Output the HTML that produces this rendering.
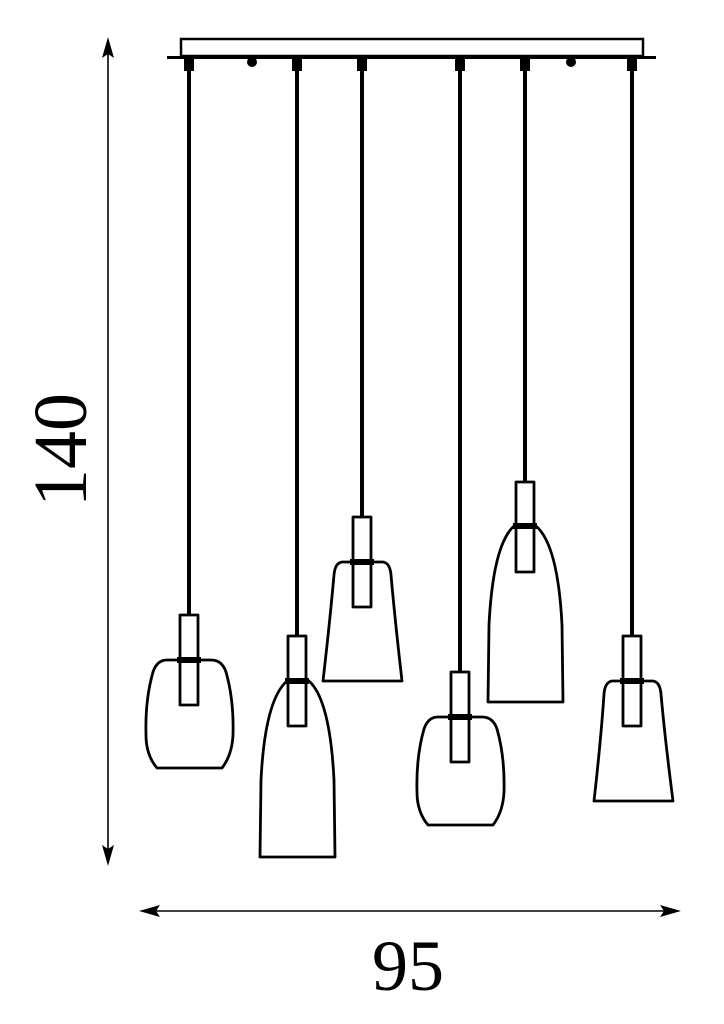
<!DOCTYPE html>
<html><head><style>html,body{margin:0;padding:0;background:#fff}svg{display:block}</style></head>
<body>
<svg width="724" height="1024" viewBox="0 0 724 1024" xmlns="http://www.w3.org/2000/svg">
<g fill="none" stroke="#000" stroke-width="3">
<rect x="181" y="39" width="462" height="17" stroke-width="2.5"/>
<line x1="167" y1="57.5" x2="656" y2="57.5" stroke-width="3"/>
</g>
<g fill="#000">
<circle cx="252" cy="62" r="5"/><circle cx="571" cy="62" r="5"/>
<rect x="184" y="58" width="10" height="13"/><rect x="292" y="58" width="10" height="13"/>
<rect x="357" y="58" width="10" height="13"/><rect x="455" y="58" width="10" height="13"/>
<rect x="520" y="58" width="10" height="13"/><rect x="627" y="58" width="10" height="13"/>
</g>
<g stroke="#000" stroke-width="4">
<line x1="189" y1="70" x2="189" y2="615"/>
<line x1="297" y1="70" x2="297" y2="636"/>
<line x1="362" y1="70" x2="362" y2="517"/>
<line x1="460" y1="70" x2="460" y2="672"/>
<line x1="525" y1="70" x2="525" y2="482"/>
<line x1="632" y1="70" x2="632" y2="636"/>
</g>
<g fill="none" stroke="#000" stroke-width="2.8" stroke-linejoin="round">
<path d="M167 660 L211 660 Q222 660 226 672 Q234 700 233 735 Q232 755 222 768 L157 768 Q146 755 146 735 Q145 700 153 672 Q157 660 167 660 Z"/>
<rect x="180" y="615" width="18" height="90"/>
<path d="M287 681 L309 681 Q330 700 334 780 L335 857 L260 857 L261 780 Q265 700 287 681 Z"/>
<rect x="288" y="636" width="18" height="90"/>
<path d="M342 562 L383 562 Q390 563 391 575 Q395 620 402 681 L323 681 Q330 620 334 575 Q335 563 342 562 Z"/>
<rect x="353" y="517" width="18" height="90"/>
<path d="M438 717 L482 717 Q493 717 497 729 Q505 757 504 792 Q503 812 493 825 L428 825 Q417 812 417 792 Q416 757 424 729 Q428 717 438 717 Z"/>
<rect x="451" y="672" width="18" height="90"/>
<path d="M514 526 L536 526 Q558 545 562 625 L563 702 L488 702 L489 625 Q493 545 514 526 Z"/>
<rect x="516" y="482" width="18" height="90"/>
<path d="M612 681 L653 681 Q660 682 661 694 Q665 739 673 801 L594 801 Q601 739 604 694 Q605 682 612 681 Z"/>
<rect x="623" y="636" width="18" height="90"/>
</g>
<g fill="#000">
<rect x="177" y="657" width="24" height="6"/><rect x="285" y="678" width="24" height="6"/>
<rect x="350" y="559" width="24" height="6"/><rect x="448" y="714" width="24" height="6"/>
<rect x="513" y="523" width="24" height="6"/><rect x="620" y="678" width="24" height="6"/>
</g>
<g stroke="#000" stroke-width="1.6" fill="none">
<line x1="108" y1="50" x2="108" y2="855"/>
<line x1="150" y1="911" x2="670" y2="911"/>
</g>
<g fill="#000">
<polygon points="108,37 114,58 108,54 102,58"/>
<polygon points="108,866 114,845 108,849 102,845"/>
<polygon points="139,911 160,905 156,911 160,917"/>
<polygon points="681,911 660,905 664,911 660,917"/>
</g>
<text x="408" y="990" font-family="Liberation Serif, serif" font-size="72" text-anchor="middle">95</text>
<text transform="translate(86,450) rotate(-90)" font-family="Liberation Serif, serif" font-size="76" text-anchor="middle">140</text>
</svg>
</body></html>
